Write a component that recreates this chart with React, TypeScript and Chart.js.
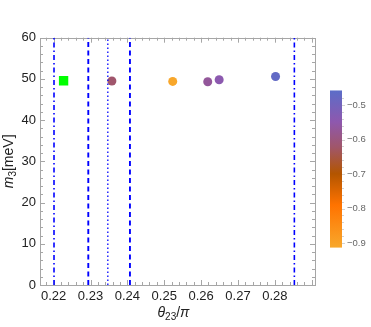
import React, { useEffect, useRef } from "react";
import { Chart, registerables } from "chart.js";
Chart.register(...registerables);

// ---- data ----
const pointX = [0.2358, 0.2523, 0.2618, 0.2649, 0.2802];
const pointY = [49.5, 49.4, 49.3, 49.8, 50.6];
const pointZ = [-0.62, -0.91, -0.57, -0.545, -0.47];
const bestX = [0.2227];
const bestY = [49.55];
const dashDotX = [0.2201, 0.2853];
const dashedX = [0.2294, 0.2407];
const dottedX = [0.2347];
const xTicks = [0.22, 0.23, 0.24, 0.25, 0.26, 0.27, 0.28];
const yTicks = [0, 10, 20, 30, 40, 50, 60];
const cbTicks = [-0.5, -0.6, -0.7, -0.8, -0.9];
const cbRange = [-0.913, -0.458];
const cbStops: [number, string][] = [
  [-0.458, "#5b6dc8"],
  [-0.549, "#8e58ae"],
  [-0.622, "#a0566a"],
  [-0.699, "#b35500"],
  [-0.79, "#ff7300"],
  [-0.913, "#f8a82c"],
];

const FONT = "'Liberation Sans', Arial, sans-serif";

function hex(c: string) {
  return [1, 3, 5].map((i) => parseInt(c.slice(i, i + 2), 16));
}
function colorFor(z: number) {
  for (let i = 0; i < cbStops.length - 1; i++) {
    const [z0, c0] = cbStops[i];
    const [z1, c1] = cbStops[i + 1];
    if (z <= z0 && z >= z1) {
      const t = (z0 - z) / (z0 - z1);
      const a = hex(c0), b = hex(c1);
      const m = a.map((v, k) => Math.round(v + (b[k] - v) * t));
      return `rgb(${m[0]},${m[1]},${m[2]})`;
    }
  }
  return z > cbStops[0][0] ? cbStops[0][1] : cbStops[cbStops.length - 1][1];
}

function vline(x: number, dash: number[], width: number) {
  return {
    type: "line" as const,
    data: [{ x, y: 0 }, { x, y: 60 }],
    borderColor: "#0000ff",
    borderDash: dash,
    borderWidth: width,
    pointRadius: 0,
    showLine: true,
    fill: false,
  };
}

const framePlugin = {
  id: "frame",
  beforeDatasetsDraw(chart: any) {
    const { ctx, chartArea: a, scales } = chart;
    const xs = scales.x, ys = scales.y;
    ctx.save();
    ctx.strokeStyle = "#a6a6a6";
    ctx.lineWidth = 1;
    ctx.beginPath();
    for (let v = 0.216; v <= 0.2911; v += 0.002) {
      const vv = Math.round(v * 1000) / 1000;
      if (vv < xs.min || vv > xs.max) continue;
      const major = Math.abs(vv * 100 - Math.round(vv * 100)) < 1e-6;
      const L = major ? 5 : 3;
      const px = Math.round(xs.getPixelForValue(vv)) + 0.5;
      ctx.moveTo(px, a.bottom);
      ctx.lineTo(px, a.bottom - L);
      ctx.moveTo(px, a.top);
      ctx.lineTo(px, a.top + L);
    }
    for (let v = 0; v <= 60; v += 2) {
      const major = v % 10 === 0;
      const L = major ? 5 : 3;
      const py = Math.round(ys.getPixelForValue(v)) + 0.5;
      ctx.moveTo(a.left, py);
      ctx.lineTo(a.left + L, py);
      ctx.moveTo(a.right, py);
      ctx.lineTo(a.right - L, py);
    }
    ctx.stroke();
    ctx.strokeRect(Math.round(a.left) + 0.5, Math.round(a.top) + 0.5, Math.round(a.right - a.left), Math.round(a.bottom - a.top));
    ctx.restore();
  },
  afterDraw(chart: any) {
    const { ctx, chartArea: a, scales } = chart;
    ctx.save();
    ctx.fillStyle = "#222";
    const cx = (a.left + a.right) / 2 - 4;
    const by = 317;
    ctx.textBaseline = "alphabetic";
    const p1 = "italic 14px " + FONT;
    const p2 = "10px " + FONT;
    const p3 = "14px " + FONT;
    ctx.font = p1; const w1 = ctx.measureText("θ").width;
    ctx.font = p2; const w2 = ctx.measureText("23").width;
    ctx.font = p3; const w3 = ctx.measureText("/").width;
    ctx.font = p1; const w4 = ctx.measureText("π").width;
    let x = cx - (w1 + w2 + w3 + w4) / 2;
    ctx.textAlign = "left";
    ctx.font = p1; ctx.fillText("θ", x, by); x += w1;
    ctx.font = p2; ctx.fillText("23", x, by + 3); x += w2;
    ctx.font = p3; ctx.fillText("/", x, by); x += w3;
    ctx.font = p1; ctx.fillText("π", x, by);
    ctx.translate(13, (a.top + a.bottom) / 2);
    ctx.rotate(-Math.PI / 2);
    ctx.font = p1; const m1 = ctx.measureText("m").width;
    ctx.font = p2; const m2 = ctx.measureText("3").width;
    ctx.font = p3; const m3 = ctx.measureText("[meV]").width;
    let y = -(m1 + m2 + m3) / 2;
    ctx.font = p1; ctx.fillText("m", y, 0); y += m1;
    ctx.font = p2; ctx.fillText("3", y, 3); y += m2;
    ctx.font = p3; ctx.fillText("[meV]", y, 0);
    ctx.restore();

    const cb = scales.cb;
    const top = cb.getPixelForValue(cbRange[1]);
    const bot = cb.getPixelForValue(cbRange[0]);
    const left = cb.left + 15;
    const w = 12;
    const g = ctx.createLinearGradient(0, top, 0, bot);
    cbStops.forEach(([z, c]) => {
      g.addColorStop((cbRange[1] - z) / (cbRange[1] - cbRange[0]), c);
    });
    ctx.save();
    ctx.fillStyle = g;
    ctx.fillRect(left, top, w, bot - top);
    ctx.strokeStyle = "rgba(200,200,200,0.8)";
    ctx.beginPath();
    for (let v = -0.9; v <= -0.46; v += 0.02) {
      const py = Math.round(cb.getPixelForValue(v)) + 0.5;
      const major = Math.abs(v * 10 - Math.round(v * 10)) < 1e-6;
      ctx.moveTo(left + w, py);
      ctx.lineTo(left + w + (major ? 3 : 2), py);
    }
    ctx.stroke();
    ctx.restore();
  },
};

export default function App() {
  const ref = useRef<HTMLCanvasElement | null>(null);
  useEffect(() => {
    if (!ref.current) return;
    const datasets: any[] = [
      ...dashDotX.map((x) => vline(x, [5, 3, 1.5, 3], 1.6)),
      ...dashedX.map((x) => vline(x, [5, 3.5], 1.9)),
      ...dottedX.map((x) => vline(x, [1.5, 2.5], 1.3)),
      {
        type: "scatter",
        data: pointX.map((x, i) => ({ x, y: pointY[i] })),
        backgroundColor: pointZ.map(colorFor),
        borderWidth: 0,
        pointRadius: 4.5,
        pointStyle: "circle",
      },
      {
        type: "scatter",
        data: bestX.map((x, i) => ({ x, y: bestY[i] })),
        backgroundColor: "#00ff00",
        borderWidth: 0,
        pointRadius: 6.6,
        pointStyle: "rect",
      },
    ];
    const chart = new Chart(ref.current, {
      type: "scatter",
      data: { datasets },
      options: {
        responsive: false,
        animation: false,
        layout: { padding: { top: 9, left: 0, right: 0, bottom: 0 } },
        plugins: { legend: { display: false }, tooltip: { enabled: false } },
        scales: {
          x: {
            type: "linear",
            min: 0.2163,
            max: 0.2909,
            grid: { display: false, drawTicks: false },
            border: { display: false },
            afterBuildTicks: (s: any) => { s.ticks = xTicks.map((v) => ({ value: v })); },
            afterFit: (s: any) => { s.height = 42; },
            ticks: {
              padding: 4,
              color: "#222",
              font: { family: FONT, size: 13 },
              callback: (v: any) => Number(v).toFixed(2),
            },
          },
          y: {
            type: "linear",
            min: 0,
            max: 60,
            grid: { display: false, drawTicks: false },
            border: { display: false },
            afterBuildTicks: (s: any) => { s.ticks = yTicks.map((v) => ({ value: v })); },
            afterFit: (s: any) => { s.width = 40; },
            ticks: {
              padding: 4,
              color: "#222",
              font: { family: FONT, size: 13 },
            },
          },
          cb: {
            type: "linear",
            position: "right",
            min: -1.0213,
            max: -0.3052,
            grid: { display: false, drawTicks: false },
            border: { display: false },
            afterBuildTicks: (s: any) => { s.ticks = cbTicks.map((v) => ({ value: v })); },
            afterFit: (s: any) => { s.width = 56; },
            ticks: {
              padding: 32,
              color: "#666",
              font: { family: FONT, size: 9.5 },
              callback: (v: any) => "\u2212" + Math.abs(Number(v)).toFixed(1),
            },
          },
        },
      } as any,
      plugins: [framePlugin],
    });
    return () => chart.destroy();
  }, []);
  return (
    <div style={{ position: "fixed", left: 0, top: 0, width: 371, height: 327, background: "#fff" }}>
      <canvas ref={ref} width={371} height={327} style={{ width: 371, height: 327 }} />
    </div>
  );
}
